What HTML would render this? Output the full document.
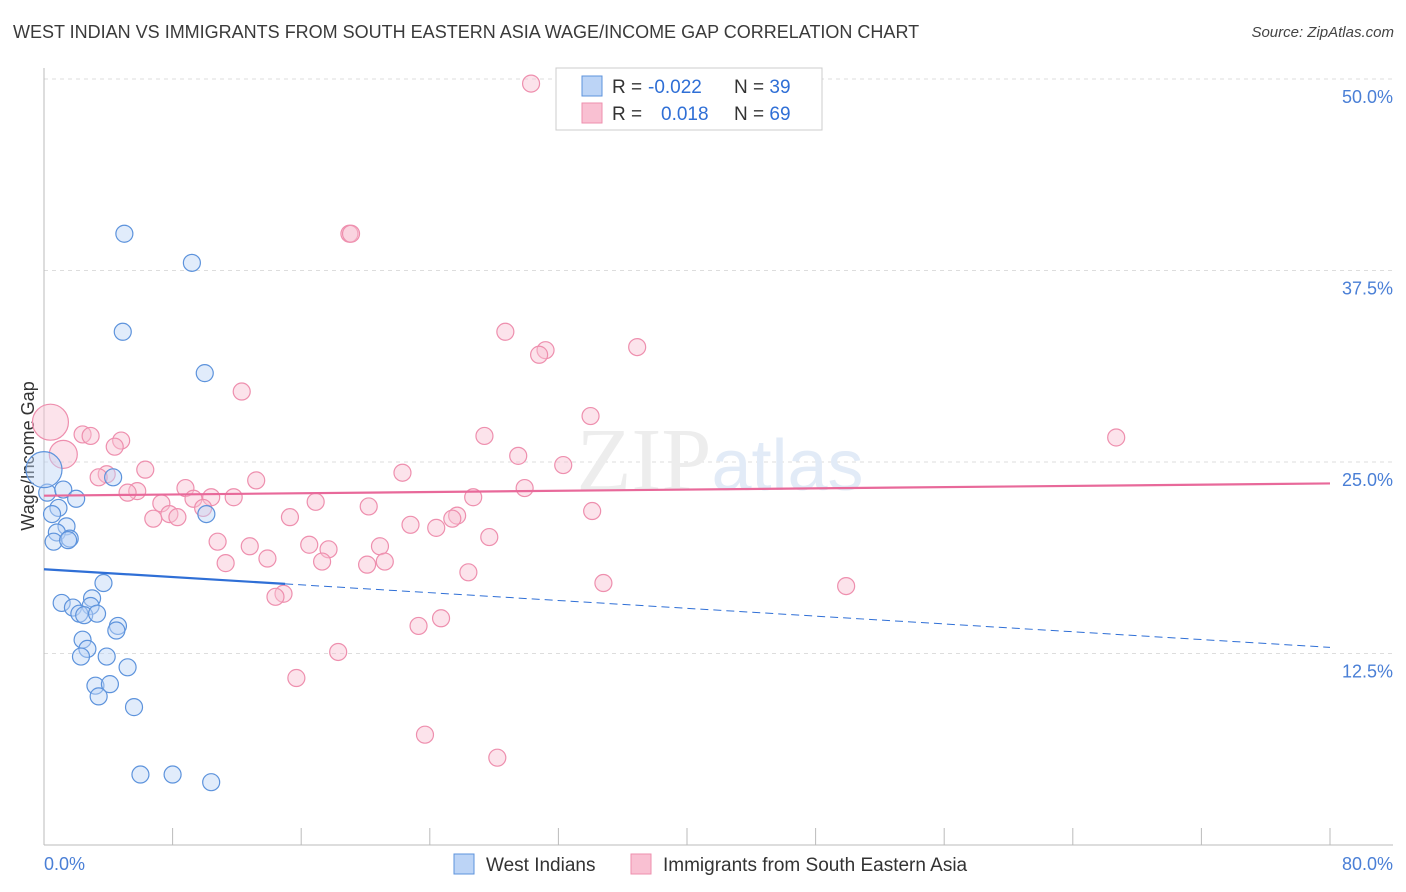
<!DOCTYPE html>
<html><head><meta charset="utf-8">
<style>
body{margin:0;background:#fff;font-family:"Liberation Sans",sans-serif;}
#wrap{position:relative;width:1406px;height:892px;overflow:hidden;}
.title{position:absolute;left:13px;top:22px;font-size:18px;color:#3a3a3a;}
.source{position:absolute;right:12px;top:24px;font-size:15px;font-style:italic;color:#444;}
</style></head><body>
<div id="wrap">
<div class="title">WEST INDIAN VS IMMIGRANTS FROM SOUTH EASTERN ASIA WAGE/INCOME GAP CORRELATION CHART</div>
<div class="source">Source: ZipAtlas.com</div>
<svg id="svg" width="1406" height="892" style="position:absolute;left:0;top:0"></svg>
</div>
<script>
const blueX=[5.0,9.2,4.9,10.0,4.3,0.2,1.2,2.0,0.9,0.5,1.4,10.1,0.8,0.6,1.6,1.5,3.7,1.1,2.99,1.8,2.9,2.2,2.5,3.3,4.6,4.5,2.4,2.7,3.9,2.3,5.2,3.2,4.1,3.4,5.6,6.0,8.0,10.4,0.0];
const blueY=[39.9,38.0,33.5,30.8,24.0,23.0,23.2,22.6,22.0,21.6,20.8,21.6,20.4,19.8,20.0,19.9,17.1,15.8,16.1,15.5,15.6,15.1,15.0,15.1,14.3,14.0,13.4,12.8,12.3,12.3,11.6,10.4,10.5,9.7,9.0,4.6,4.6,4.1,24.5];
const pinkX=[30.3,19.0,19.1,28.7,31.2,30.8,36.9,12.3,34.0,0.4,1.2,2.4,2.9,4.8,4.4,27.4,66.7,29.5,6.3,3.9,3.4,32.3,22.3,13.2,5.8,5.2,8.8,10.4,9.3,11.8,26.7,29.9,16.9,7.3,20.2,7.8,6.8,8.3,9.9,15.3,34.1,25.7,25.4,22.8,24.4,27.7,10.8,12.8,16.5,17.7,20.9,13.9,17.3,11.3,20.1,21.2,26.4,34.8,49.9,14.9,14.4,24.7,23.3,18.3,15.7,23.7,28.2];
const pinkY=[49.7,39.9,39.9,33.5,32.3,32.0,32.5,29.6,28.0,27.6,25.5,26.8,26.7,26.4,26.0,26.7,26.6,25.4,24.5,24.2,24.0,24.8,24.3,23.8,23.1,23.0,23.3,22.7,22.6,22.7,22.7,23.3,22.4,22.3,22.1,21.6,21.3,21.4,22.0,21.4,21.8,21.5,21.3,20.9,20.7,20.1,19.8,19.5,19.6,19.3,19.5,18.7,18.5,18.4,18.3,18.5,17.8,17.1,16.9,16.4,16.2,14.8,14.3,12.6,10.9,7.2,5.7];
const bigBlue=[38], bigPink=[9,10];
const trendBlue=[18.0,12.9], trendPink=[22.8,23.6];
const xTicks=["0.0%","80.0%"];
const yTicks=[12.5,25.0,37.5,50.0];
const X=v=>44+v*16.075, Y=v=>845-v*15.32;
const svg=document.getElementById('svg');
const NS='http://www.w3.org/2000/svg';
function mk(t,a,p){const e=document.createElementNS(NS,t);for(const k in a)e.setAttribute(k,a[k]);(p||svg).appendChild(e);return e;}
yTicks.forEach(t=>{
const g=mk('line',{x1:44,x2:1393,y1:Y(t),y2:Y(t),stroke:'#ddd','stroke-dasharray':'4,4'});


const tx=mk('text',{x:1393,y:Y(t)+24,'text-anchor':'end','font-size':18,fill:'#4a7fd6'});
tx.textContent=t.toFixed(1)+'%';


});
const ax=mk('line',{x1:44,x2:1393,y1:845,y2:845,stroke:'#bbb'});


const ay=mk('line',{x1:44,x2:44,y1:68,y2:845,stroke:'#bbb'});


for(let i=0;i<=10;i++){const t=mk('line',{x1:X(i*8),x2:X(i*8),y1:828,y2:845,stroke:'#bbb'});

}
const xl0=mk('text',{x:44,y:870,'font-size':18,fill:'#4a7fd6'});xl0.textContent=xTicks[0];


const xl1=mk('text',{x:1393,y:870,'font-size':18,fill:'#4a7fd6','text-anchor':'end'});xl1.textContent=xTicks[1];


const yt=mk('text',{x:34,y:456,'font-size':18,fill:'#333','text-anchor':'middle',transform:'rotate(-90 34 456)'});yt.textContent='Wage/Income Gap';


const wm=mk('text',{x:720,y:490,'font-size':90,'text-anchor':'middle',fill:'#ededed','font-family':'Liberation Serif'});
wm.innerHTML='ZIP<tspan fill="#e2ebf7" font-family="Liberation Sans" font-size="72">atlas</tspan>';


function pts(xs,ys,big,fill,stroke,name){xs.forEach((x,i)=>{const r=big.includes(i)?(i===9||i===38?18:14):8.5;
const c=mk('circle',{cx:X(x),cy:Y(ys[i]),r:r,fill:fill,stroke:stroke,'stroke-width':1.2,'fill-opacity':0.45});

});}
pts(pinkX,pinkY,bigPink,'#f9c0d2','#ee8fae','pink-point');
pts(blueX,blueY,bigBlue,'#bcd4f6','#5d93dc','blue-point');
const bs=trendBlue[0]+(trendBlue[1]-trendBlue[0])*(15/80);
const tb1=mk('line',{x1:X(0),y1:Y(trendBlue[0]),x2:X(15),y2:Y(bs),stroke:'#2f6fd6','stroke-width':2.2});


const tb2=mk('line',{x1:X(15),y1:Y(bs),x2:X(80),y2:Y(trendBlue[1]),stroke:'#2f6fd6','stroke-width':1,'stroke-dasharray':'8,5'});


const tp=mk('line',{x1:X(0),y1:Y(trendPink[0]),x2:X(80),y2:Y(trendPink[1]),stroke:'#e8699a','stroke-width':2.2});


const lb=mk('rect',{x:556,y:68,width:266,height:62,fill:'#fff',stroke:'#ccc'});


[[86,'#bcd4f6','#5d93dc','-0.022','39'],[113,'#f9c0d2','#ee8fae','0.018','69']].forEach(r=>{
const s=mk('rect',{x:582,y:r[0]-10,width:20,height:20,fill:r[1],stroke:r[2]});


const t=mk('text',{x:612,y:r[0]+7,'font-size':19,fill:'#333'});
t.innerHTML='R = <tspan x="'+(r[3][0]==='-'?648:661)+'" fill="#2f6fd6">'+r[3]+'</tspan><tspan x="734">N = </tspan><tspan fill="#2f6fd6">'+r[4]+'</tspan>';


});
[[454,'#bcd4f6','#5d93dc','West Indians'],[631,'#f9c0d2','#ee8fae','Immigrants from South Eastern Asia']].forEach(r=>{
const s=mk('rect',{x:r[0],y:854,width:20,height:20,fill:r[1],stroke:r[2]});


const t=mk('text',{x:r[0]+32,y:871,'font-size':19,fill:'#333'});t.textContent=r[3];


});
</script>
</body></html>
